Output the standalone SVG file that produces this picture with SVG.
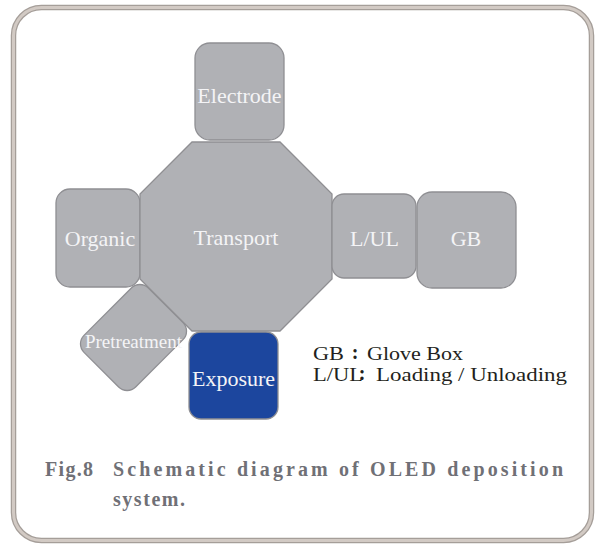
<svg xmlns="http://www.w3.org/2000/svg" width="598" height="544" viewBox="0 0 598 544">
<style>
.node{fill:#b0b1b5;stroke:#8f8f93;stroke-width:1.3}
.lbl{font-size:22px;fill:#f4f4f6;text-anchor:middle}
.leg{font-size:19px;fill:#231f20}
.colon{font-size:20px;fill:#231f20;text-anchor:middle;font-weight:bold}
.cap{font-size:20px;font-weight:bold;fill:#707076}
</style>
<rect width="598" height="544" fill="#ffffff"/>
<g id="frame">
<rect x="13.5" y="7.5" width="578" height="533" rx="28" fill="none" stroke="#a59e99" stroke-width="5.5"/>
<rect x="13.5" y="7.5" width="578" height="533" rx="28" fill="none" stroke="#d2cac4" stroke-width="3"/>
</g>
<g id="connectors"></g>
<g font-family="Liberation Serif, Times New Roman, serif">
<g id="electrode">
<rect class="node" x="195" y="43" width="89" height="97" rx="15"/>
<text class="lbl" x="239.5" y="103">Electrode</text>
</g>
<g id="organic">
<rect class="node" x="56" y="189" width="84" height="98" rx="14"/>
<text class="lbl" x="100" y="246">Organic</text>
</g>
<g id="pretreatment">
<rect class="node" x="-36.5" y="-45.5" width="73" height="91" rx="12" transform="translate(133.5 337.5) rotate(45)"/>
<text class="lbl" x="133.5" y="348" style="font-size:19px">Pretreatment</text>
</g>
<g id="transport">
<polygon class="node" points="192,142 280,142 332,194 332,279 280,331 192,331 140,279 140,194"/>
<text class="lbl" x="236" y="245">Transport</text>
</g>
<g id="lul">
<rect class="node" x="332" y="194" width="84" height="84" rx="12"/>
<text class="lbl" x="374.5" y="246">L/UL</text>
</g>
<g id="gb">
<rect class="node" x="417" y="192" width="99" height="96" rx="15"/>
<text class="lbl" x="466" y="246">GB</text>
</g>
<g id="exposure">
<rect x="189" y="332" width="89" height="87" rx="12" fill="#1c469e" stroke="#8f8f93" stroke-width="1.3"/>
<text class="lbl" x="233.5" y="386">Exposure</text>
</g>
<g id="legend">
<text class="leg" x="313" y="360" textLength="31" lengthAdjust="spacingAndGlyphs">GB</text>
<text class="colon" x="355" y="359">:</text>
<text class="leg" x="367" y="360" textLength="96" lengthAdjust="spacingAndGlyphs">Glove Box</text>
<text class="leg" x="313" y="381" textLength="50" lengthAdjust="spacingAndGlyphs">L/UL</text>
<text class="colon" x="362" y="380">:</text>
<text class="leg" x="376" y="381" textLength="191" lengthAdjust="spacingAndGlyphs">Loading / Unloading</text>
</g>
<g id="caption">
<text class="cap" x="45" y="476" textLength="48" lengthAdjust="spacing">Fig.8</text>
<text class="cap" x="113" y="476" textLength="450" lengthAdjust="spacing">Schematic diagram of OLED deposition</text>
<text class="cap" x="113" y="506" textLength="72" lengthAdjust="spacing">system.</text>
</g>
</g>
</svg>
